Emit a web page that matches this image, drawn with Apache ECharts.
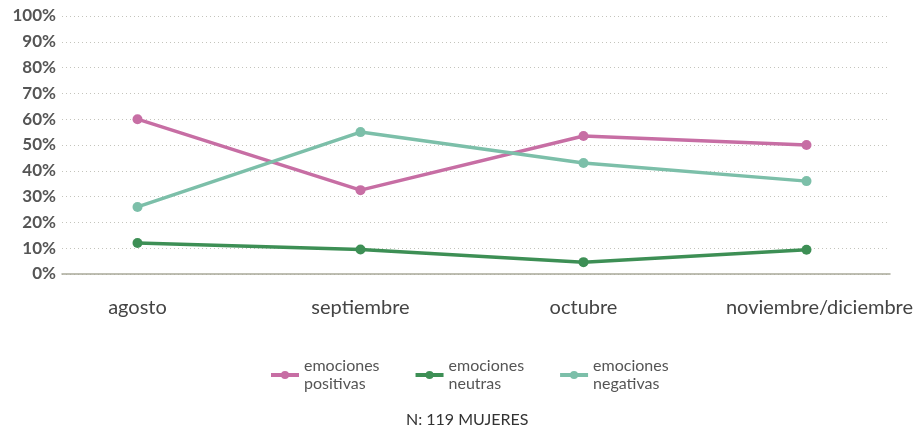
<!DOCTYPE html>
<html><head><meta charset="UTF-8">
<title>emociones</title>
<script src="https://cdn.jsdelivr.net/npm/echarts@6/dist/echarts.min.js"></script>
<style>
  *{margin:0;padding:0;}
  html,body{width:100%;height:100%;background:#fff;}
  #chart{width:922px;height:429px;}
</style>
</head>
<body>
<div id="chart"></div>
<script>
// datos (porcentaje)
var meses = ['agosto', 'septiembre', 'octubre', 'noviembre/diciembre'];
var positivas = [60, 32.5, 53.5, 50];
var neutras = [12, 9.5, 4.6, 9.4];
var negativas = [26, 55, 43, 36];
var nota = 'N: 119 MUJERES';

var colores = ['#c76ea4', '#3d8f55', '#7cbfa9'];
var nombres = ['emociones\npositivas', 'emociones\nneutras', 'emociones\nnegativas'];

function serie(nombre, datos, color) {
    return {
        name: nombre,
        type: 'line',
        xAxisIndex: 1,
        yAxisIndex: 1,
        data: datos,
        symbol: 'circle',
        symbolSize: 10,
        lineStyle: {width: 3.5, color: color},
        itemStyle: {color: color},
        emphasis: {disabled: true}
    };
}

var myChart = echarts.init(document.getElementById('chart'));
myChart.setOption({
    animation: false,
    grid: [
        {left: 62, right: 32, top: 16, bottom: 155},   // rejilla y eje
        {left: 26, right: 4, top: 16, bottom: 155}     // series
    ],
    xAxis: [
        {
            type: 'category', gridIndex: 0, data: meses,
            axisLine: {lineStyle: {color: '#a9a999', width: 1.5}},
            axisTick: {show: false}, axisLabel: {show: false}
        },
        {
            type: 'category', gridIndex: 1, data: meses, boundaryGap: true,
            axisLine: {show: false}, axisTick: {show: false},
            axisLabel: {
                interval: 0, margin: 24, fontSize: 20, color: '#444',
                fontFamily: 'Lato',
                formatter: function (v) {
                    return v === 'noviembre/diciembre' ? '{r|' + v + '}' : v;
                },
                rich: {r: {fontSize: 20, color: '#444', fontFamily: 'Lato', padding: [0, 0, 0, 26]}}
            }
        }
    ],
    yAxis: [
        {
            type: 'value', gridIndex: 0, min: 0, max: 100, interval: 10,
            axisLine: {show: false}, axisTick: {show: false},
            axisLabel: {
                formatter: '{value}%', margin: 6, fontSize: 17,
                fontWeight: 'bold', color: '#555', fontFamily: 'Lato'
            },
            splitLine: {lineStyle: {color: '#c4c4bc', type: [1, 3], width: 1}}
        },
        {
            type: 'value', gridIndex: 1, min: 0, max: 100, show: false
        }
    ],
    legend: {
        top: 352,
        left: 264,
        itemWidth: 28,
        itemHeight: 10,
        itemGap: 34,
        lineStyle: {width: 4},
        textStyle: {fontSize: 16, color: '#555', lineHeight: 18, fontFamily: 'Lato'},
        data: nombres
    },
    graphic: [{
        type: 'text',
        left: 406,
        top: 412,
        style: {text: nota, fontSize: 16, fill: '#333', fontFamily: 'Lato'}
    }],
    series: [
        serie(nombres[0], positivas, colores[0]),
        serie(nombres[1], neutras, colores[1]),
        serie(nombres[2], negativas, colores[2])
    ]
});
</script>
</body></html>
